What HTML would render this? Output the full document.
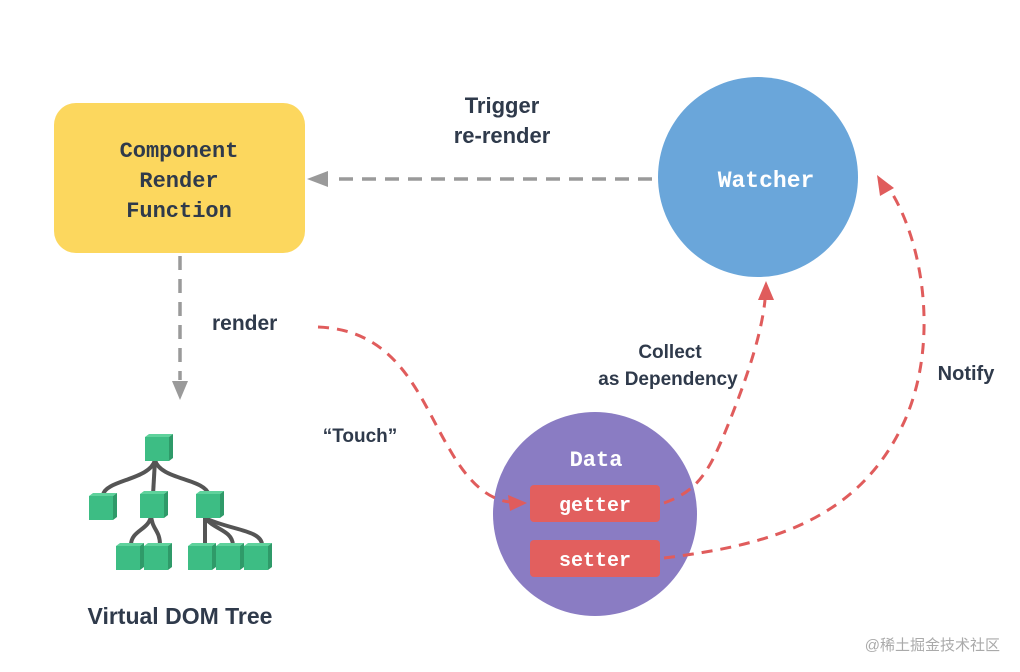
<!DOCTYPE html>
<html><head><meta charset="utf-8"><style>
html,body{margin:0;padding:0;background:#fff;}
svg{display:block}
.m{font-family:"Liberation Mono",monospace;font-weight:bold;}
.s{font-family:"Liberation Sans",sans-serif;font-weight:bold;fill:#2f3a4b;}
</style></head><body>
<svg width="1020" height="672" viewBox="0 0 1020 672" xmlns="http://www.w3.org/2000/svg">
<!-- yellow box -->
<rect x="54" y="103" width="251" height="150" rx="22" fill="#fcd75e"/>
<text class="m" x="179" y="157" font-size="22" fill="#2f3a4b" text-anchor="middle">Component</text>
<text class="m" x="179" y="187" font-size="22" fill="#2f3a4b" text-anchor="middle">Render</text>
<text class="m" x="179" y="217" font-size="22" fill="#2f3a4b" text-anchor="middle">Function</text>
<!-- watcher -->
<circle cx="758" cy="177" r="100" fill="#6aa6da"/>
<text class="m" x="766" y="187" font-size="23" fill="#fff" text-anchor="middle">Watcher</text>
<!-- trigger arrow -->
<line x1="652" y1="179" x2="330" y2="179" stroke="#9a9a9a" stroke-width="3.5" stroke-dasharray="14,9"/>
<path d="M307,179 L328,171 L328,187 z" fill="#9a9a9a"/>
<text class="s" x="502" y="113" font-size="22" text-anchor="middle">Trigger</text>
<text class="s" x="502" y="143" font-size="22" text-anchor="middle">re-render</text>
<!-- render arrow down -->
<line x1="180" y1="256" x2="180" y2="380" stroke="#9a9a9a" stroke-width="3.5" stroke-dasharray="14,9"/>
<path d="M172,381 L188,381 L180,400 z" fill="#9a9a9a"/>
<text class="s" x="212" y="330" font-size="21">render</text>
<!-- tree -->
<g stroke="#555" stroke-width="4" fill="none">
<path d="M155,460 C150,480 105,480 103,495"/>
<path d="M155,460 L153,495"/>
<path d="M155,460 C160,480 205,478 209,495"/>
<path d="M151,515 C150,530 131,530 131,545"/>
<path d="M151,515 C152,530 160,530 160,545"/>
<path d="M205,518 L205,545"/>
<path d="M205,518 C215,530 232,530 233,545"/>
<path d="M205,518 C230,530 262,530 262,545"/>
</g>
<g>
<g transform="translate(145,437)"><rect width="24" height="24" fill="#3dbd84"/><path d="M0,0 L4,-3 L28,-3 L24,0z" fill="#5fd29c"/><path d="M24,0 L28,-3 L28,21 L24,24z" fill="#2f9a69"/></g>
<g transform="translate(89,496)"><rect width="24" height="24" fill="#3dbd84"/><path d="M0,0 L4,-3 L28,-3 L24,0z" fill="#5fd29c"/><path d="M24,0 L28,-3 L28,21 L24,24z" fill="#2f9a69"/></g>
<g transform="translate(140,494)"><rect width="24" height="24" fill="#3dbd84"/><path d="M0,0 L4,-3 L28,-3 L24,0z" fill="#5fd29c"/><path d="M24,0 L28,-3 L28,21 L24,24z" fill="#2f9a69"/></g>
<g transform="translate(196,494)"><rect width="24" height="24" fill="#3dbd84"/><path d="M0,0 L4,-3 L28,-3 L24,0z" fill="#5fd29c"/><path d="M24,0 L28,-3 L28,21 L24,24z" fill="#2f9a69"/></g>
<g transform="translate(116,546)"><rect width="24" height="24" fill="#3dbd84"/><path d="M0,0 L4,-3 L28,-3 L24,0z" fill="#5fd29c"/><path d="M24,0 L28,-3 L28,21 L24,24z" fill="#2f9a69"/></g>
<g transform="translate(144,546)"><rect width="24" height="24" fill="#3dbd84"/><path d="M0,0 L4,-3 L28,-3 L24,0z" fill="#5fd29c"/><path d="M24,0 L28,-3 L28,21 L24,24z" fill="#2f9a69"/></g>
<g transform="translate(188,546)"><rect width="24" height="24" fill="#3dbd84"/><path d="M0,0 L4,-3 L28,-3 L24,0z" fill="#5fd29c"/><path d="M24,0 L28,-3 L28,21 L24,24z" fill="#2f9a69"/></g>
<g transform="translate(216,546)"><rect width="24" height="24" fill="#3dbd84"/><path d="M0,0 L4,-3 L28,-3 L24,0z" fill="#5fd29c"/><path d="M24,0 L28,-3 L28,21 L24,24z" fill="#2f9a69"/></g>
<g transform="translate(244,546)"><rect width="24" height="24" fill="#3dbd84"/><path d="M0,0 L4,-3 L28,-3 L24,0z" fill="#5fd29c"/><path d="M24,0 L28,-3 L28,21 L24,24z" fill="#2f9a69"/></g>
</g>
<text class="s" x="180" y="624" font-size="23" text-anchor="middle">Virtual DOM Tree</text>
<!-- data circle -->
<circle cx="595" cy="514" r="102" fill="#8a7cc3"/>
<text class="m" x="596" y="466" font-size="22" fill="#fff" text-anchor="middle">Data</text>
<rect x="530" y="485" width="130" height="37" rx="4" fill="#e25f5e"/>
<text class="m" x="595" y="511" font-size="20" fill="#fff" text-anchor="middle">getter</text>
<rect x="530" y="540" width="130" height="37" rx="4" fill="#e25f5e"/>
<text class="m" x="595" y="566" font-size="20" fill="#fff" text-anchor="middle">setter</text>
<!-- red dashed -->
<g stroke="#e05c5c" stroke-width="3" fill="none" stroke-dasharray="11,8">
<path d="M318,327 C400,330 420,400 450,450 C470,485 490,500 510,502"/>
<path d="M664,503 C700,490 710,470 730,420 C750,370 762,330 765,300"/>
<path d="M664,558 C770,545 860,520 905,420 C940,340 922,240 890,190"/>
</g>
<path d="M527,503 L508,495 L510,511 z" fill="#e05c5c"/>
<path d="M766,281 L758,300 L774,300 z" fill="#e05c5c"/>
<path d="M877,175 L880,196 L894,188 z" fill="#e05c5c"/>
<text class="s" x="670" y="358" font-size="19" text-anchor="middle">Collect</text>
<text class="s" x="668" y="385" font-size="19" text-anchor="middle">as Dependency</text>
<text class="s" x="966" y="380" font-size="20" text-anchor="middle">Notify</text>
<text class="s" x="360" y="442" font-size="19" text-anchor="middle">“Touch”</text>
<text x="1000" y="650" font-size="15" fill="#aaa" text-anchor="end" font-family="'Liberation Sans','Noto Sans CJK SC',sans-serif">@稀土掘金技术社区</text>
</svg>
</body></html>
